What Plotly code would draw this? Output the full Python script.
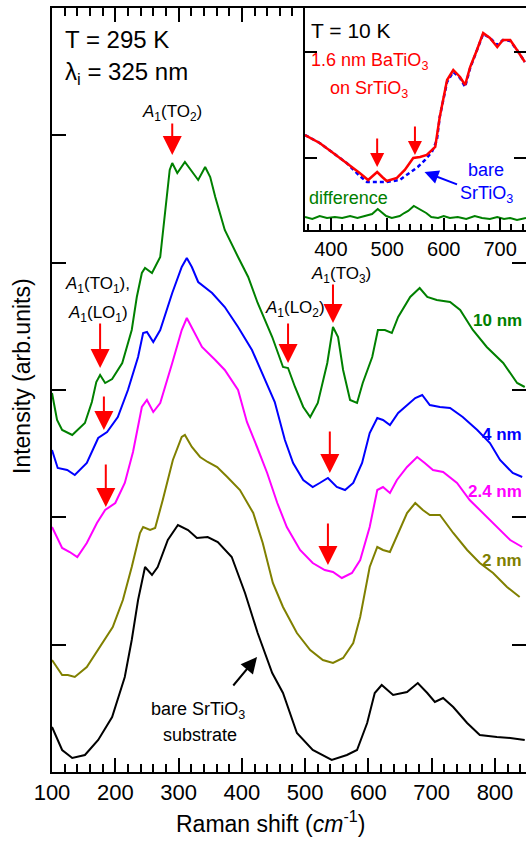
import plotly.graph_objects as go

# ---------------- main panel data (Raman shift cm^-1, intensity arb. units) ----------------
x_10nm = [100, 108, 116, 132, 152, 163, 170, 176, 184, 195, 211, 226, 234, 242, 247, 258, 271, 279, 286, 290,
          298, 310, 321, 331, 342, 350, 358, 373, 394, 410, 425, 448, 465, 473, 484, 497, 508, 520, 535, 544,
          552, 560, 571, 582, 591, 606, 615, 626, 637, 647, 666, 681, 693, 708, 729, 745, 765, 787, 813, 835, 847]
y_10nm = [379, 352, 342, 337, 349, 370, 390, 397, 389, 393, 409, 442, 475, 499, 504, 499, 515, 559, 602, 609,
          599, 610, 600, 592, 605, 595, 575, 542, 515, 495, 469, 435, 405, 404, 385, 365, 355, 369, 409, 445,
          435, 402, 372, 369, 389, 415, 442, 442, 439, 455, 475, 484, 475, 472, 470, 462, 442, 425, 409, 389, 385]

x_4nm = [100, 109, 124, 136, 155, 173, 187, 204, 220, 236, 244, 250, 260, 271, 290, 305, 313, 321, 331, 353,
         373, 394, 416, 437, 452, 468, 481, 497, 512, 523, 536, 550, 563, 576, 590, 602, 614, 623, 634, 647,
         661, 674, 685, 697, 713, 729, 749, 772, 792, 808, 828, 843]
y_4nm = [322, 304, 302, 297, 309, 334, 340, 355, 382, 415, 439, 440, 430, 442, 479, 505, 514, 505, 490, 479,
         465, 445, 422, 392, 370, 332, 309, 292, 285, 289, 294, 285, 282, 289, 309, 339, 354, 352, 347, 359,
         367, 374, 377, 367, 365, 364, 355, 342, 329, 312, 299, 295]

x_24nm = [100, 116, 128, 140, 155, 171, 184, 200, 215, 228, 242, 250, 260, 271, 290, 305, 313, 323, 337, 358,
          373, 394, 408, 424, 440, 456, 471, 492, 512, 531, 544, 558, 574, 587, 602, 614, 623, 634, 645, 661,
          677, 689, 702, 718, 740, 760, 781, 803, 824, 843]
y_24nm = [245, 224, 220, 215, 229, 249, 262, 269, 289, 320, 365, 372, 360, 369, 409, 442, 454, 442, 425, 412,
          402, 382, 350, 325, 299, 269, 245, 222, 209, 202, 200, 194, 199, 212, 245, 282, 285, 279, 292, 305,
          315, 309, 302, 300, 289, 272, 259, 245, 232, 225]

x_2nm = [100, 116, 125, 136, 155, 176, 196, 212, 226, 239, 244, 255, 263, 275, 291, 305, 310, 321, 334, 346,
         361, 377, 397, 418, 433, 449, 465, 487, 508, 528, 544, 560, 576, 587, 602, 614, 623, 634, 647, 661,
         674, 686, 697, 713, 734, 756, 776, 797, 819, 839]
y_2nm = [112, 97, 97, 95, 105, 125, 145, 172, 205, 239, 245, 242, 244, 272, 312, 335, 337, 325, 315, 310,
         305, 295, 282, 259, 229, 189, 165, 139, 122, 112, 109, 114, 129, 155, 205, 225, 222, 220, 239, 259,
         269, 262, 257, 257, 239, 222, 209, 199, 185, 175]

x_bare = [100, 116, 132, 152, 173, 195, 215, 226, 236, 247, 258, 267, 283, 299, 315, 329, 346, 362, 384, 405,
          425, 448, 465, 487, 512, 542, 566, 582, 598, 610, 621, 639, 661, 678, 693, 705, 718, 734, 756, 776,
          803, 824, 847]
y_bare = [45, 22, 14, 17, 32, 55, 95, 132, 172, 205, 197, 205, 232, 247, 242, 234, 235, 230, 215, 179,
          139, 99, 79, 39, 22, 12, 17, 22, 49, 79, 87, 77, 80, 89, 79, 70, 74, 65, 49, 37,
          35, 34, 32]

# ---------------- inset data (T = 10 K) ----------------
x_film = [354, 380, 404, 428, 451, 466, 475, 482, 491, 499, 517, 531, 546, 558, 570, 585, 593, 606, 617, 629,
          638, 647, 659, 670, 682, 695, 705, 718, 730, 744]
y_film = [95, 87, 77, 67, 57, 50, 55, 58, 53, 49, 52, 60, 72, 73, 75, 83, 113, 150, 160, 153,
          145, 163, 180, 197, 192, 183, 190, 190, 180, 168]

x_sub = [354, 380, 404, 428, 451, 464, 482, 499, 522, 540, 554, 567, 579, 588, 593, 606, 617, 629, 638, 647,
         659, 670, 682, 695, 705, 718, 730, 744]
y_sub = [95, 87, 77, 67, 54, 48, 48, 48, 50, 57, 63, 70, 78, 90, 113, 148, 158, 152, 143, 162,
         180, 196, 192, 185, 190, 189, 180, 168]

x_diff = [354, 367, 380, 393, 407, 420, 434, 447, 460, 473, 483, 490, 498, 508, 522, 530, 537, 547, 553, 558,
          569, 578, 590, 600, 611, 625, 640, 655, 668, 682, 695, 707, 718, 730, 746]
y_diff = [13, 11, 14, 12, 13, 12, 14, 12, 14, 16, 21, 18, 14, 12, 14, 17, 19, 24, 22, 21,
          17, 13, 12, 14, 12, 13, 11, 14, 12, 11, 13, 11, 12, 10, 12]

x_ticks_main = [100, 200, 300, 400, 500, 600, 700, 800]
x_ticks_inset = [400, 500, 600, 700]

GREEN, BLUE, MAG, OLIVE, BLACK, RED = "#008000", "#0000ff", "#ff00ff", "#808000", "#000000", "#ff0000"
FONT = "Liberation Sans, Arial, sans-serif"

W, H = 526, 841
L, R, T, B = 52, 526, 8, 772
YMAX = 764.0
DY = YMAX / 6


def px(xp):
    return (xp - L) / (R - L)


def py(yp):
    return (B - yp) / (B - T)


fig = go.Figure()
for xs, ys, c in [(x_bare, y_bare, BLACK), (x_2nm, y_2nm, OLIVE), (x_24nm, y_24nm, MAG),
                  (x_4nm, y_4nm, BLUE), (x_10nm, y_10nm, GREEN)]:
    fig.add_trace(go.Scatter(x=xs, y=ys, mode="lines", line=dict(color=c, width=2),
                             showlegend=False, hoverinfo="skip"))

fig.add_trace(go.Scatter(x=x_diff, y=y_diff, xaxis="x2", yaxis="y2", mode="lines",
                         line=dict(color=GREEN, width=2), showlegend=False, hoverinfo="skip"))
fig.add_trace(go.Scatter(x=x_sub, y=y_sub, xaxis="x2", yaxis="y2", mode="lines",
                         line=dict(color=BLUE, width=2.5, dash="4px,3px"), showlegend=False, hoverinfo="skip"))
fig.add_trace(go.Scatter(x=x_film, y=y_film, xaxis="x2", yaxis="y2", mode="lines",
                         line=dict(color=RED, width=2.5), showlegend=False, hoverinfo="skip"))

inset_x0 = px(305)
inset_y0 = py(230)

axis_common = dict(showgrid=False, zeroline=False, showline=True, linecolor="black", linewidth=2,
                   ticks="inside", tickcolor="black", tickwidth=2)

fig.update_layout(
    width=W, height=H,
    margin=dict(l=L, r=W - R, t=T, b=H - B, pad=0),
    paper_bgcolor="white", plot_bgcolor="white",
    font=dict(family=FONT, color="black"),
    xaxis=dict(domain=[0, 1], range=[100, 849], anchor="y", mirror="ticks",
               tickvals=x_ticks_main, ticklen=14, tickfont=dict(size=22),
               minor=dict(dtick=20, tick0=0, ticklen=8, tickwidth=1.5, ticks="inside", tickcolor="black"),
               **axis_common),
    yaxis=dict(domain=[0, 1], range=[0, YMAX], anchor="x",
               tickvals=[DY * k for k in range(1, 6)], ticklen=14, showticklabels=False,
               **axis_common),
    yaxis3=dict(overlaying="y", side="right", anchor="x", range=[0, YMAX],
                tickvals=[DY * k for k in range(1, 5)], ticks="inside", ticklen=14, tickwidth=2,
                tickcolor="black", showline=False, showticklabels=False, showgrid=False, zeroline=False),
    xaxis2=dict(domain=[inset_x0, 1], range=[354, 746], anchor="y2",
                tickvals=x_ticks_inset, ticklen=12, tickfont=dict(size=20),
                minor=dict(dtick=20, tick0=0, ticklen=6, tickwidth=1.5, ticks="inside", tickcolor="black"),
                **axis_common),
    yaxis2=dict(domain=[inset_y0, 1], range=[0, 222], anchor="x2",
                tickvals=[72, 178], ticklen=12, showticklabels=False, **axis_common),
    yaxis4=dict(overlaying="y2", side="right", anchor="x2", range=[0, 222],
                tickvals=[72, 178], ticks="inside", ticklen=12, tickwidth=2, tickcolor="black",
                showline=False, showticklabels=False, showgrid=False, zeroline=False),
)

# dummy traces so overlay axes render
fig.add_trace(go.Scatter(x=[None], y=[None], yaxis="y3", showlegend=False, hoverinfo="skip"))
fig.add_trace(go.Scatter(x=[None], y=[None], xaxis="x2", yaxis="y4", showlegend=False, hoverinfo="skip"))

ann = []


def text(t, xp, yp, size, color="black", xanchor="center"):
    ann.append(dict(text=t, x=px(xp), y=py(yp), xref="paper", yref="paper", showarrow=False,
                    xanchor=xanchor, yanchor="middle", font=dict(size=size, color=color, family=FONT)))


def arrow(x, y, ax, ay, color=RED, size=1.9, xref="x", yref="y"):
    ann.append(dict(text="", x=x, y=y, xref=xref, yref=yref, ax=ax, ay=ay, showarrow=True,
                    arrowhead=2, arrowsize=size, arrowwidth=2, arrowcolor=color, standoff=0))


text("T = 295 K", 63, 39, 24, xanchor="left")
text("λ<sub>i</sub> = 325 nm", 63, 73, 24, xanchor="left")
text("<i>A</i><sub>1</sub>(TO<sub>2</sub>)", 172, 113, 17)
text("<i>A</i><sub>1</sub>(TO<sub>1</sub>),", 97, 285, 17)
text("<i>A</i><sub>1</sub>(LO<sub>1</sub>)", 98, 314, 17)
text("<i>A</i><sub>1</sub>(LO<sub>2</sub>)", 295, 309, 17)
text("<i>A</i><sub>1</sub>(TO<sub>3</sub>)", 341, 275, 17)
text("bare SrTiO<sub>3</sub>", 198, 710, 18)
text("substrate", 200, 735, 18)
text("<b>10 nm</b>", 524, 320, 17, GREEN, xanchor="right")
text("<b>4 nm</b>", 524, 435, 17, BLUE, xanchor="right")
text("<b>2.4 nm</b>", 524, 491, 17, MAG, xanchor="right")
text("<b>2 nm</b>", 524, 560, 17, OLIVE, xanchor="right")
text("Intensity (arb.units)", 22, 0, 23)
ann[-1].update(textangle=-90, y=py(376))
text("Raman shift (<i>cm</i><sup>-1</sup>)", 270, 822, 23)

# inset texts
text("T = 10 K", 309, 31, 21, xanchor="left")
text("1.6 nm BaTiO<sub>3</sub>", 369, 62, 18, RED)
text("on SrTiO<sub>3</sub>", 369, 90, 18, RED)
text("bare", 486, 170, 18, BLUE)
text("SrTiO<sub>3</sub>", 486, 194, 18, BLUE)
text("difference", 307, 198, 18, GREEN, xanchor="left")

# main arrows (tip in data coordinates, tail offset in pixels)
arrow(290, 617, 0, -33)
arrow(176, 404, 0, -46)
arrow(182, 342, 0, -35)
arrow(185, 265, 0, -44)
arrow(473, 409, 0, -41)
arrow(544, 449, 0, -40)
arrow(539, 299, 0, -43)
arrow(536, 207, 0, -43)
arrow(424, 115, -25, 30, color=BLACK, size=1.6)
# inset arrows
arrow(482, 63, 0, -30, size=1.4, xref="x2", yref="y2")
arrow(549, 75, 0, -30, size=1.4, xref="x2", yref="y2")
arrow(566, 58, 34, 13, color=BLUE, size=1.4, xref="x2", yref="y2")

fig.update_layout(annotations=ann)
fig.write_html("out.html", config={"displayModeBar": False},
               post_script="document.body.style.margin='0px';document.body.style.overflow='hidden';")
